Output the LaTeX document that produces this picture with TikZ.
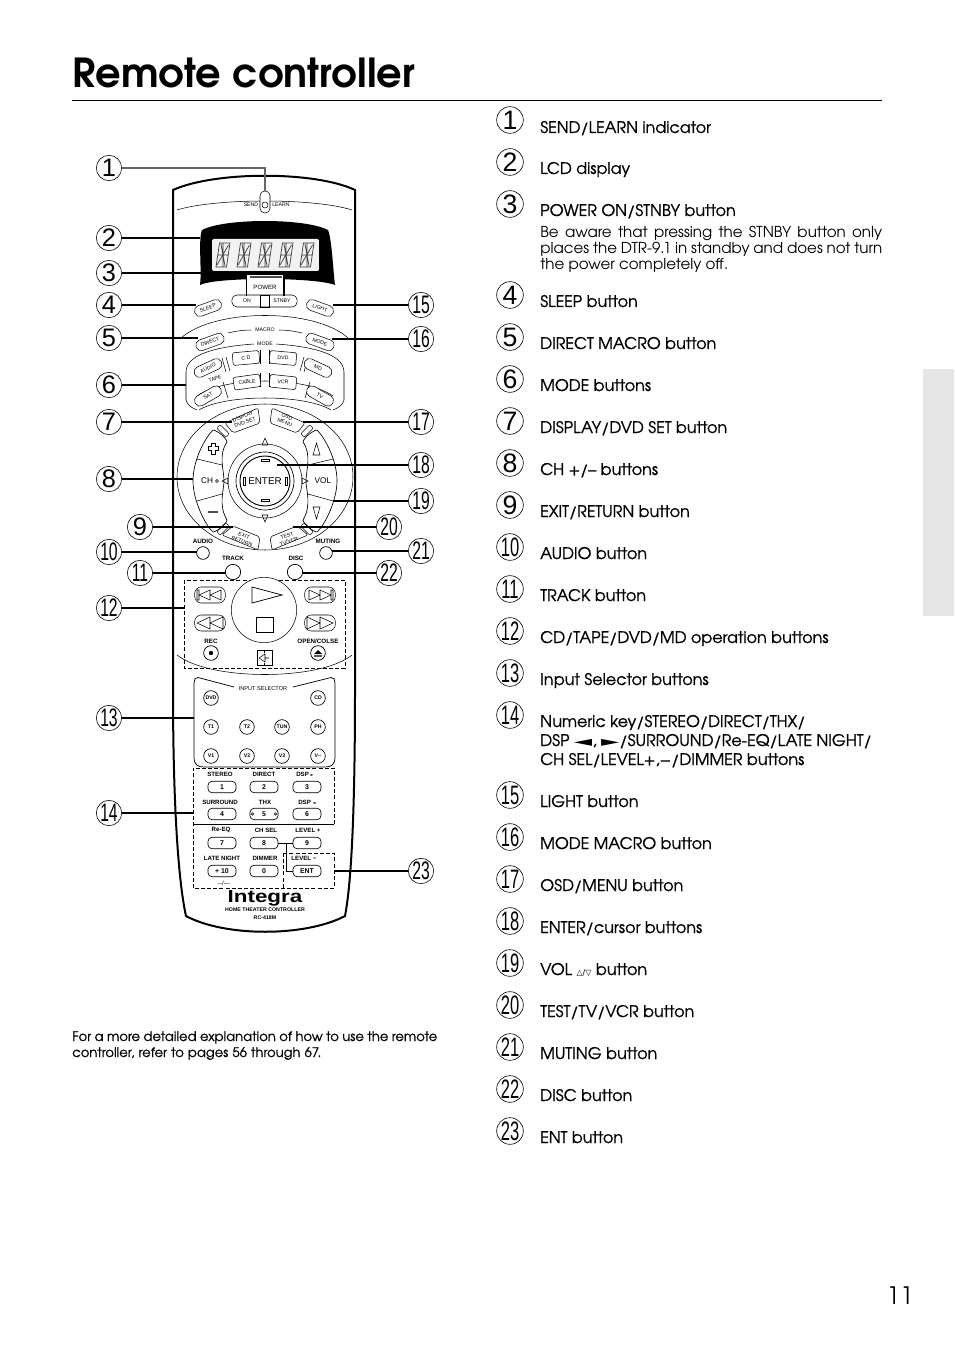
\documentclass[tikz,border=0pt]{standalone}
\usepackage{fontspec}
\usetikzlibrary{calc}
\setmainfont{TeX Gyre Adventor}
\newfontfamily\hv{Liberation Sans}
\newfontfamily\djv{DejaVu Sans}
\newfontfamily\med[FakeBold=0.9]{TeX Gyre Adventor}
\newcommand\pxf[1]{\fontsize{#1}{#1}\selectfont}
\newcommand\numb[1]{\ifnum#1>9\relax\scalebox{0.62}[1]{#1}\else#1\fi}
\tikzset{
 thick line/.style={line width=1.5pt},
 conn/.style={line width=0.8pt},
 thin line/.style={line width=0.4pt},
 callout/.style={circle,draw,line width=0.45pt,minimum size=19pt,inner sep=0pt,font=\hv\pxf{19}},
 rcallout/.style={circle,draw,line width=0.45pt,minimum size=20pt,inner sep=0pt,font=\hv\pxf{20}},
 item/.style={anchor=base west,inner sep=0pt,font=\med\pxf{11.98}},
 para/.style={anchor=base west,inner sep=0pt,font=\pxf{11.3}},
 tiny/.style={inner sep=0pt,font=\hv\pxf{3.9}},
 tb/.style={inner sep=0pt,font=\hv\bfseries\pxf{4.7}},
 capsule/.style={draw,thin line,rounded corners=3.8pt,inner sep=0pt,minimum height=8.2pt,font=\hv\pxf{3.9},fill=white},
 mbtn/.style={draw,thin line,rounded corners=1.2pt,inner sep=0pt,minimum height=9.5pt,minimum width=20pt,font=\hv\pxf{3.9},fill=white},
 rbtn/.style={circle,draw,line width=0.5pt,minimum size=11pt,inner sep=0pt,font=\hv\bfseries\pxf{3.9},fill=white},
 kbtn/.style={draw,line width=0.5pt,rounded corners=3pt,minimum width=21pt,minimum height=8.6pt,inner sep=0pt,font=\hv\bfseries\pxf{5.2},fill=white},
 klab/.style={inner sep=0pt,font=\hv\bfseries\pxf{4.6}},
 dbox/.style={line width=0.55pt,dash pattern=on 3pt off 1.6pt},
}
\newcommand\lcdchar[1]{%
 \begin{scope}[shift={(#1,255)}]
  \draw[line width=0.55pt,black!75] (-7,12)--(-3.5,-12)--(7,-12)--(3.5,12)--cycle (-5.2,0)--(5.2,0) (0,12)--(0,-12) (-6,10)--(5.5,-10) (-2,-11)--(2,11);
 \end{scope}}
\begin{document}
\begin{tikzpicture}[x=0.75pt,y=-0.75pt]
\useasboundingbox (0,0) rectangle (954,1351);
\fill[white] (0,0) rectangle (954,1351);
\fill[black!10] (923,369) rectangle (954,616);
\node[anchor=base west,inner sep=0pt] (title) at (72,88) {\resizebox{257pt}{!}{\bfseries\pxf{36}Remote controller}};
\coordinate (ruleL) at (72,100.5); \coordinate (ruleR) at (882,100.5);
\draw[line width=0.6pt] (ruleL) -- (ruleR);
\node[anchor=center,inner sep=0pt,font=\pxf{18}] (pageno) at (900,1296) {11};

% right column
\foreach \n/\y in {1/120,2/162,3/204,4/295,5/337,6/379,7/421,8/463,9/505,10/547,11/589,12/631,13/673,14/715,15/795,16/837,17/879,18/921,19/963,20/1005,21/1047,22/1089,23/1131}
  \node[rcallout] (r\n) at (510,\y) {\numb{\n}};
\foreach \n/\y/\t in {1/133/{SEND/LEARN indicator},2/174/{LCD display},3/216/{POWER ON/STNBY button},4/307/{SLEEP button},5/349/{DIRECT MACRO button},6/391/{MODE buttons},7/433/{DISPLAY/DVD SET button},8/475/{CH +/– buttons},9/517/{EXIT/RETURN button},10/559/{AUDIO button},11/601/{TRACK button},12/643/{CD/TAPE/DVD/MD operation buttons},13/685/{Input Selector buttons},14/727/{Numeric key/STEREO/DIRECT/THX/},15/807/{LIGHT button},16/849/{MODE MACRO button},17/891/{OSD/MENU button},18/933/{ENTER/cursor buttons},20/1017/{TEST/TV/VCR button},21/1059/{MUTING button},22/1101/{DISC button},23/1143/{ENT button}}
  \node[item] (t\n) at (540,\y) {\t};
\node[item] (t14b) at (540,746) {DSP {\djv\scalebox{1.7}[1]{\pxf{10.5}◄}}, {\djv\scalebox{1.7}[1]{\pxf{10.5}►}}/SURROUND/Re-EQ/LATE NIGHT/};
\node[item] (t14c) at (540,765) {CH SEL/LEVEL+,−/DIMMER buttons};
\node[item] (t19) at (540,975) {VOL {\djv\pxf{6}△/▽} button};
\node[para] (p1) at (540,237.5) {\makebox[256.5pt][s]{Be aware that pressing the STNBY button only}};
\node[para] (p2) at (540,253.5) {\makebox[256.5pt][s]{places the DTR-9.1 in standby and does not turn}};
\node[para] (p3) at (540,269.5) {the power completely off.};
\node[anchor=base west,inner sep=0pt,font=\med\pxf{9.85}] (f1) at (72,1041) {\makebox[273.75pt][s]{For a more detailed explanation of how to use the remote}};
\node[anchor=base west,inner sep=0pt,font=\med\pxf{9.85}] (f2) at (72,1057) {\makebox[186.75pt][s]{controller, refer to pages 56 through 67.}};

% remote body
\draw[thick line,line join=miter] (173,190) .. controls (215,171) and (315,171) .. (355,190) -- (355,690) .. controls (355,800) and (352,880) .. (345,916) .. controls (305,937) and (225,937) .. (186,916) .. controls (178,880) and (173,800) .. (173,690) -- cycle;
\draw[thin line] (177,210) .. controls (215,198) and (315,198) .. (352,210);
\node[draw,thin line,fill=white,rounded corners=3.5pt,minimum width=7.5pt,minimum height=16.5pt,inner sep=0pt] (led) at (265,202) {};
\draw[thin line] (265,205) circle [radius=3];
\node[tiny] (send) at (251,205) {SEND};
\node[tiny] (learn) at (281,205) {LEARN};
% LCD
\fill (202,230) .. controls (225,218) and (305,218) .. (328,230) .. controls (332,240) and (333,270) .. (335,285) .. controls (315,277) and (215,277) .. (200,285) .. controls (202,270) and (198,240) .. (202,230) -- cycle;
\node[fill=black!5,minimum width=80pt,minimum height=24pt,inner sep=0pt,rounded corners=1pt] (screen) at (265.5,255) {};
\foreach \x in {223,244,265,286,307} {\lcdchar{\x}}
\fill[white] (246.5,275) rectangle (284,296);
\fill[black!70] (250,276.5) rectangle (282,278);
\node[inner sep=0pt,font=\hv\pxf{4.6}] (power) at (265,287) {POWER};
\node[capsule,minimum width=49pt,minimum height=9pt] (pwrbtn) at (264.5,301) {};
\draw[thin line] (260,295) rectangle (269,307);
\node[tiny] (on) at (247,300.5) {ON};
\node[tiny] (stnby) at (282,300.5) {STNBY};
\node[capsule,minimum width=21pt,rotate=20] (sleep) at (208,308) {SLEEP};
\node[capsule,minimum width=21pt,rotate=-20] (light) at (320,308) {LIGHT};
% macro
\draw[thin line] (181,338) .. controls (215,308) and (315,308) .. (348,338);
\node[capsule,minimum width=22pt,rotate=20] (direct) at (210,342) {DIRECT};
\node[capsule,minimum width=22pt,rotate=-20] (mmode) at (320,342) {MODE};
\node[tiny] (macro) at (265,330) {MACRO};
\node[tiny] (modeT) at (265,343.5) {MODE};
\draw[thin line] (228,333) .. controls (236,331) and (244,330) .. (251,330);
\draw[thin line] (279,330) .. controls (286,330) and (294,331) .. (302,333);
% mode frame
\draw[thin line] (254,344) .. controls (225,346) and (186,352) .. (186,372) -- (186,400) .. controls (187,405) and (192,408) .. (197,410);
\draw[thin line] (276,344) .. controls (305,346) and (344,352) .. (344,372) -- (344,400) .. controls (343,405) and (338,408) .. (333,410);
\draw[thin line] (197,396) .. controls (225,376) and (305,376) .. (333,396);
\draw[thin line] (199,410) .. controls (225,394) and (305,394) .. (331,410);
\foreach \x/\a/\b in {260/350/364,269/350/364,260/373/387,269/373/387} \draw[thin line] (\x,\a) -- (\x,\b);
\draw[thin line] (222,358)--(226,372) (226,357)--(230,371) (304,357)--(300,371) (308,358)--(304,372) (223,382)--(228,398) (305,398)--(310,382);
\node[capsule,minimum width=22pt,rotate=25] (audio) at (208,368) {AUDIO};
\node[mbtn,rotate=5] (cd) at (246,358) {C D};
\node[mbtn,rotate=-5] (dvd) at (283,358) {DVD};
\node[capsule,minimum width=22pt,rotate=-25] (md) at (318,368) {MD};
\node[tiny,rotate=20] (tape) at (215,379) {TAPE};
\node[capsule,minimum width=22pt,rotate=30] (sat) at (208,396) {SAT};
\node[mbtn,rotate=8] (cable) at (247,382) {CABLE};
\node[mbtn,rotate=-6] (vcr) at (283,382) {VCR};
\node[capsule,minimum width=22pt,rotate=-30] (tv) at (320,396) {TV};
% wheel
\draw[thin line] (265,477) ellipse [x radius=88,y radius=73];
\draw[line width=0.5pt] (213,430) .. controls (205,438) and (193,460) .. (193,481) .. controls (193,500) and (205,525) .. (213,532) .. controls (216,532) and (226,525) .. (227,520) .. controls (218,505) and (224,490) .. (224,481) .. controls (224,470) and (218,455) .. (227,442) .. controls (226,437) and (216,430) .. (213,430) -- cycle;
\draw[thin line] (197,459) -- (222,465) (197,501) -- (222,494);
\draw[line width=0.5pt] (317,430) .. controls (325,438) and (337,460) .. (337,481) .. controls (337,500) and (325,525) .. (317,532) .. controls (314,532) and (304,525) .. (303,520) .. controls (312,505) and (306,490) .. (306,481) .. controls (306,470) and (312,455) .. (303,442) .. controls (304,437) and (314,430) .. (317,430) -- cycle;
\draw[thin line] (333,459) -- (308,465) (333,501) -- (308,494);
\draw[line width=0.45pt] (211,443) -- (215,443) -- (215,446) -- (218,446) -- (218,450) -- (215,450) -- (215,454) -- (211,454) -- (211,450) -- (208,450) -- (208,446) -- (211,446) -- cycle;
\draw[line width=0.8pt,black!70] (208,512) -- (218,512);
\draw[thin line] (313,455) -- (316.5,443) -- (320,455) -- cycle;
\draw[thin line] (313,507) -- (316.5,519) -- (320,507) -- cycle;
\node[inner sep=0pt,font=\hv\pxf{6.2}] (ch) at (207,481) {CH};
\node[inner sep=0pt,font=\hv\pxf{6.2}] (vol) at (323,481) {VOL};
\draw[thin line] (217,481) circle [radius=1.4];
\draw[thin line] (222,481) -- (228,478) -- (228,484) -- cycle;
\draw[thin line] (308,481) -- (302,478) -- (302,484) -- cycle;
\draw[thin line] (265,438) -- (262,445) -- (268,445) -- cycle;
\draw[thin line] (265,522) -- (262,515) -- (268,515) -- cycle;
\draw[thin line] (265,481) circle [radius=37];
\draw[line width=0.5pt] (265,481) circle [radius=29];
\draw[line width=0.7pt] (265,481) circle [radius=25];
\node[inner sep=0pt,font=\hv\pxf{7.4}] (enter) at (265,481) {ENTER};
\draw[thin line] (243,477) rectangle (245,485) (285,477) rectangle (287,485) (261,459) rectangle (269,461) (261,499) rectangle (269,501);
% corner keys
\draw[thin line,rounded corners=1.5pt] (225,423) -- (258,408) -- (260,423) -- (233,433) -- cycle;
\draw[thin line,rounded corners=1.5pt] (305,423) -- (272,408) -- (270,423) -- (297,433) -- cycle;
\draw[thin line,rounded corners=1.5pt] (222,535) -- (233,526) -- (260,537) -- (258,550) -- cycle;
\draw[thin line,rounded corners=1.5pt] (308,535) -- (297,526) -- (270,537) -- (272,550) -- cycle;
\node[tiny,rotate=20,align=center] (disp) at (244,419.5) {DISPLAY\\[0.6pt]DVD SET};
\node[tiny,rotate=-20,align=center] (osd) at (286,419.5) {OSD\\[0.6pt]MENU};
\node[tiny,rotate=-20,align=center] (exit) at (243,538.5) {EXIT\\[0.6pt]RETURN};
\node[tiny,rotate=20,align=center] (test) at (288,538.5) {TEST\\[0.6pt]TV/VCR};
\foreach \x/\y/\a in {223/431/-45,307/431/45,223/529/45,307/529/-45}
  \draw[thin line,rotate around={\a:(\x,\y)},rounded corners=1.5pt] (\x-6.5,\y-2.5) rectangle (\x+6.5,\y+2.5);
% round buttons
\node[tb] (laudio) at (203,541.5) {AUDIO};
\node[tb] (lmute) at (328,541.5) {MUTING};
\node[tb] (ltrack) at (233,558) {TRACK};
\node[tb] (ldisc) at (296,558) {DISC};
\node[circle,draw,line width=0.55pt,minimum size=9.5pt,inner sep=0pt] (baudio) at (203,553) {};
\node[circle,draw,line width=0.55pt,minimum size=9.5pt,inner sep=0pt] (bmute) at (326,553) {};
\node[circle,draw,line width=0.55pt,minimum size=11.5pt,inner sep=0pt] (btrack) at (233,572) {};
\node[circle,draw,line width=0.55pt,minimum size=11.5pt,inner sep=0pt] (bdisc) at (295,572) {};
% transport
\draw[dbox] (184,580) rectangle (345,668);
\draw[thin line] (177,655) .. controls (210,681) and (320,681) .. (352,655);
\node[circle,draw,thin line,minimum size=49pt,inner sep=0pt,fill=white] (jog) at (264,610) {};
\draw[line width=0.55pt] (252,587) -- (282,595) -- (252,603) -- cycle;
\draw[line width=0.55pt] (256,617) rectangle (273,632);
\node[capsule,minimum width=23pt,minimum height=12pt,rounded corners=5pt] (skl) at (210,595) {};
\node[capsule,minimum width=23pt,minimum height=12pt,rounded corners=5pt] (skr) at (320,595) {};
\node[capsule,minimum width=23pt,minimum height=12pt,rounded corners=5pt] (rwl) at (210,623) {};
\node[capsule,minimum width=23pt,minimum height=12pt,rounded corners=5pt] (rwr) at (320,623) {};
\draw[thin line] (197,590) -- (197,600) -- (199,600) -- (199,590) -- cycle (199,595) -- (210,590) -- (210,600) -- cycle (210,595) -- (221,590) -- (221,600) -- cycle;
\draw[thin line] (333,590) -- (333,600) -- (331,600) -- (331,590) -- cycle (331,595) -- (320,590) -- (320,600) -- cycle (320,595) -- (309,590) -- (309,600) -- cycle;
\draw[thin line] (197,623) -- (210,617) -- (210,629) -- cycle (210,623) -- (223,617) -- (223,629) -- cycle;
\draw[thin line] (333,623) -- (320,617) -- (320,629) -- cycle (320,623) -- (307,617) -- (307,629) -- cycle;
\node[tb] (lrec) at (211,641) {REC};
\node[tb] (lopen) at (318,641) {OPEN/COLSE};
\node[circle,draw,line width=0.55pt,minimum size=11pt,inner sep=0pt,fill=white] (brec) at (211,653) {};
\fill (211,653) circle [radius=2.2];
\node[circle,draw,line width=0.55pt,minimum size=11pt,inner sep=0pt,fill=white] (bej) at (318,653) {};
\fill (314,654) -- (318,650) -- (322,654) -- cycle (314,655.3) rectangle (322,656.5);
\draw[line width=0.5pt,fill=white] (257,650.5) rectangle (272,665.5);
\draw[thin line] (264.5,650.5) -- (264.5,653) (264.5,663) -- (264.5,665.5) (265,654) -- (259,658) -- (265,662) -- cycle (265,658) -- (269,658);
% input selector
\draw[line width=0.55pt] (234,687) -- (198,677.5) .. controls (195,677) and (194,680) .. (194,683) -- (194,757) .. controls (194,765) and (198,767) .. (204,767) -- (325,767) .. controls (331,767) and (335,765) .. (335,757) -- (335,683) .. controls (335,680) and (334,677) .. (331,677.5) -- (293,687);
\node[inner sep=0pt,font=\hv\pxf{4.2}] (insel) at (263,689) {INPUT SELECTOR};
\foreach \nm/\x/\y/\t in {DVD/211/698/DVD,CD/318/698/CD,T1/211/727/T1,T2/247/727/T2,TUN/282/727/TUN,PH/318/727/PH,V1/211/756/V1,V2/247/756/V2,V3/282/756/V3,Vx/318/756/{V\raisebox{-0.3pt}{--}}}
  \node[rbtn] (b\nm) at (\x,\y) {\t};
% keypad
\draw[dbox] (334,824) -- (334,768) -- (193,768) -- (193,888) -- (334,888) -- (334,853) -- (283,853);
\draw[dbox] (283,853) -- (283,888);
\draw[line width=0.6pt] (193,824) -- (334,824);
\foreach \nm/\x/\y/\t in {a/220/774/STEREO,b/264/774/DIRECT,d/220/802/SURROUND,e/265/802/THX,g/221/830/Re-EQ,h/266/830/CH SEL,i/308/830/LEVEL +,j/222/858/LATE NIGHT,k/265/858/DIMMER}
  \node[klab] (k\nm) at (\x,\y) {\t};
\node[klab] (kc) at (305,774) {DSP {\djv\pxf{3}►}};
\node[klab] (kf) at (307,802) {DSP {\djv\pxf{3}◄}};
\node[klab] (kl) at (304,858) {LEVEL −};
\foreach \nm/\x/\y/\t in {1/222/787/1,2/264/787/2,3/307/787/3,4/222/814/4,6/307/814/6,7/222/843/7,8/264/843/8,9/307/843/9,10/222/871/{+ 10},0/264/871/0,E/307/871/ENT}
  \node[kbtn] (n\nm) at (\x,\y) {\t};
\node[kbtn] (n5) at (264,814) {5};
\draw[thin line] (252.5,814) circle [radius=1.2] (275.5,814) circle [radius=1.2];
\node[inner sep=0pt,font=\hv\pxf{4.6}] (dashes) at (224,883) {--/---};
\draw[line width=0.6pt] (n8.east) -- (n9.west);
\coordinate (lvlA) at (286,843); \coordinate (lvlB) at (286,871);
\draw[line width=0.6pt] (lvlA) -- (lvlB) -- (nE.west);
\node[inner sep=0pt] (integra) at (265,898.5) {\resizebox{56pt}{9pt}{\hv\bfseries Integra}};
\node[inner sep=0pt,font=\hv\bfseries\pxf{3.95}] (home) at (265,910) {HOME THEATER CONTROLLER};
\node[inner sep=0pt,font=\hv\bfseries\pxf{3.95}] (rc) at (265,917.5) {RC-418M};

% callouts
\foreach \n/\x/\y in {1/109/168,2/109/238,3/109/273,4/109/305,5/109/338,6/109/385,7/109/422,8/109/479,9/140/527,10/109/552,11/140/573,12/109/608,13/109/718,14/109/813,15/421/305,16/421/339,17/421/422,18/421/465,19/421/501,20/389/527,21/421/551,22/389/573,23/421/871}
  \node[callout,fill=white] (c\n) at (\x,\y) {\numb{\n}};
% connector targets
\coordinate (p1a) at (265,168);
\coordinate (p2) at (200,238);
\coordinate (p3a) at (246.5,273); \coordinate (p3b) at (284,273);
\coordinate (p3c) at (246.5,296); \coordinate (p3d) at (284,296);
\coordinate (p4) at (196,305);
\coordinate (p5) at (198,338);
\coordinate (p6) at (186,385);
\coordinate (p7) at (232,422);
\coordinate (p8) at (193,479);
\coordinate (p9) at (233,527);
\coordinate (p10) at (197,552);
\coordinate (p11) at (225,573);
\coordinate (p12) at (184,608);
\coordinate (p13) at (194,718);
\coordinate (p14) at (193,813);
\coordinate (p15) at (333,305);
\coordinate (p16) at (332,339);
\coordinate (p17) at (303,422);
\coordinate (p18) at (277,465);
\coordinate (p19) at (333,501);
\coordinate (p20) at (293,527);
\coordinate (p21) at (332,551);
\coordinate (p22) at (303,573);
\coordinate (p23) at (334,871);
\draw[conn,black!60] (c1) -- (p1a) -- (led.north);
\draw[conn] (c2) -- (p2);
\draw[conn] (c3) -- (p3b) -- (p3d);
\draw[conn] (p3a) -- (p3c);
\foreach \n in {4,...,23} \draw[conn] (c\n) -- (p\n);
\end{tikzpicture}
\end{document}
